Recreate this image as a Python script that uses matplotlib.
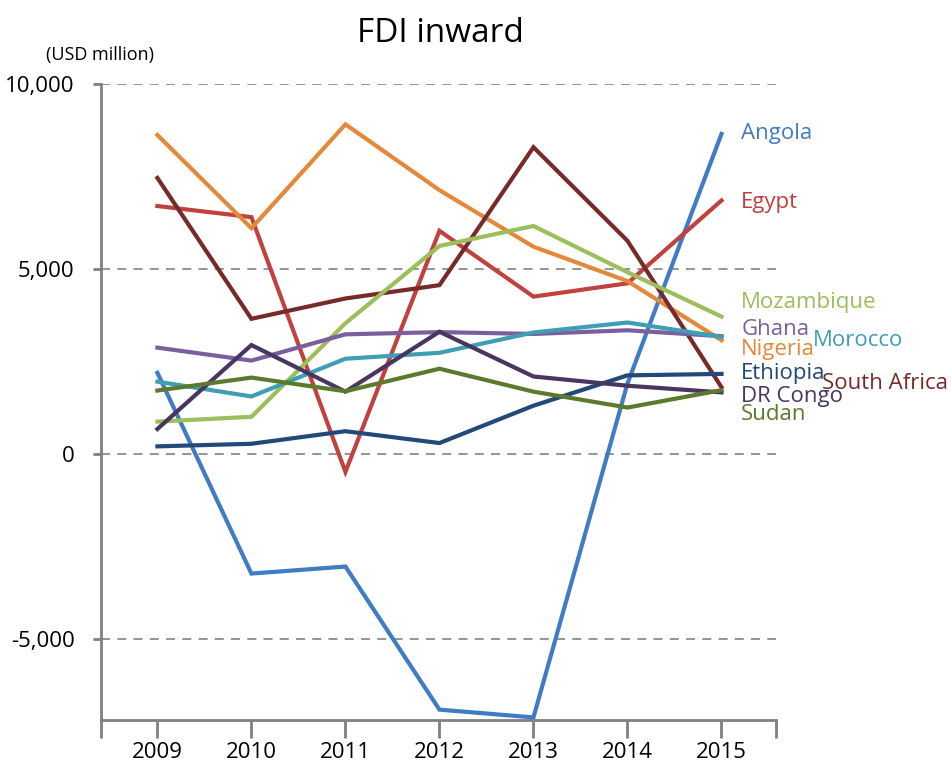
import matplotlib.pyplot as plt
from matplotlib.ticker import FuncFormatter

plt.rcParams['font.family'] = ['Open Sans', 'DejaVu Sans']

# data (USD million)
years = [2009, 2010, 2011, 2012, 2013, 2014, 2015]
angola = [2190, -3240, -3050, -6920, -7130, 1900, 8650]
egypt = [6700, 6400, -490, 6030, 4250, 4610, 6850]
nigeria = [8620, 6100, 8910, 7130, 5600, 4670, 3070]
south_africa = [7460, 3650, 4200, 4560, 8290, 5760, 1800]
mozambique = [870, 1000, 3530, 5620, 6160, 4910, 3710]
ghana = [2870, 2520, 3230, 3290, 3240, 3340, 3180]
morocco = [1950, 1550, 2570, 2730, 3280, 3550, 3160]
ethiopia = [200, 270, 610, 290, 1300, 2120, 2160]
dr_congo = [670, 2940, 1680, 3300, 2090, 1840, 1660]
sudan = [1710, 2060, 1690, 2300, 1680, 1250, 1720]

names = ['Angola', 'Egypt', 'Nigeria', 'South Africa', 'Mozambique',
         'Ghana', 'Morocco', 'Ethiopia', 'DR Congo', 'Sudan']
series = [angola, egypt, nigeria, south_africa, mozambique,
          ghana, morocco, ethiopia, dr_congo, sudan]
colors = ['#3f7cc4', '#c0413e', '#e4893a', '#772a2a', '#9bbf5a',
          '#7b5e9e', '#3e9fb4', '#22497a', '#483560', '#5b7a2c']
# label anchor (x, y) in data coords, placed by eye
label_pos = [(2015.21, 8650), (2015.21, 6800), (2015.21, 2830), (2016.07, 1890),
             (2015.21, 4100), (2015.21, 3350), (2015.97, 3050), (2015.21, 2160),
             (2015.21, 1540), (2015.21, 1050)]

fig = plt.figure(figsize=(9.51, 7.64), dpi=100)
ax = fig.add_axes([101 / 951, 44 / 764, 675 / 951, 636 / 764])

# dashed grid
for g in [10000, 5000, 0, -5000]:
    ax.axhline(g, color='#8c8c8c', lw=1.3, ls=(0, (5, 4)), zorder=1)

for name, vals, c, (lx, ly) in zip(names, series, colors, label_pos):
    ax.plot(years, vals, color=c, lw=3, solid_joinstyle='miter', zorder=3)
    ax.text(lx, ly, name, color=c, fontsize=16, va='center', ha='left',
            clip_on=False)

ax.set_xlim(2008.4, 2015.58)
ax.set_ylim(-7200, 10000)
ax.set_yticks([10000, 5000, 0, -5000])
ax.yaxis.set_major_formatter(FuncFormatter(lambda v, p: f'{int(v):,}'))
ax.set_xticks(years)
ax.set_xticks([2008.4, 2015.58], minor=True)

for s in ['top', 'right']:
    ax.spines[s].set_visible(False)
for s in ['left', 'bottom']:
    ax.spines[s].set_color('#808080')
    ax.spines[s].set_linewidth(2)

ax.tick_params(axis='y', direction='out', length=6, width=2, color='#808080',
               labelsize=16, pad=13)
ax.tick_params(axis='x', which='both', direction='out', length=13, width=2,
               color='#808080', labelsize=16, pad=3)

fig.text(440 / 951, 1 - 33 / 764, 'FDI inward', ha='center', va='center',
         fontsize=24)
fig.text(100 / 951, 1 - 55 / 764, '(USD million)', ha='center', va='center',
         fontsize=13)

fig.savefig('out.png', dpi=100)
